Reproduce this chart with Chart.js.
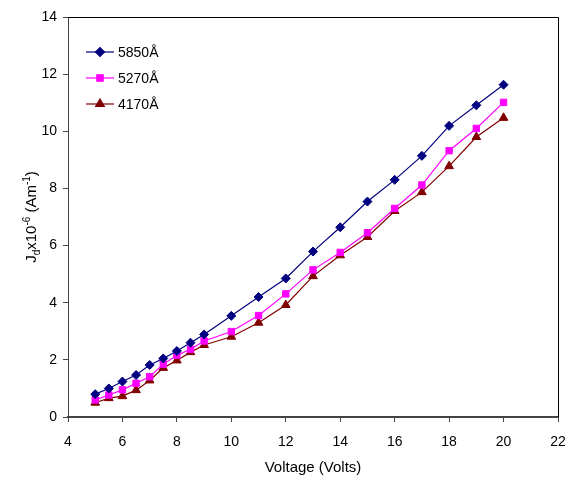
<!DOCTYPE html>
<html>
<head>
<meta charset="utf-8">
<script src="https://cdn.jsdelivr.net/npm/chart.js@4"></script>
<style>
  html, body { margin: 0; padding: 0; background: #fff; }
  #wrap { width: 567px; height: 481px; }
</style>
</head>
<body>
<div id="wrap"><canvas id="jdChart" width="567" height="481"></canvas></div>
<script>
// Data
const voltage = [5, 5.5, 6, 6.5, 7, 7.5, 8, 8.5, 9, 10, 11, 12, 13, 14, 15, 16, 17, 18, 19, 20];
const jd5850 = [0.80, 1.00, 1.24, 1.47, 1.82, 2.05, 2.31, 2.60, 2.89, 3.54, 4.20, 4.85, 5.79, 6.64, 7.54, 8.30, 9.14, 10.19, 10.91, 11.63];
const jd5270 = [0.60, 0.77, 0.95, 1.18, 1.41, 1.85, 2.16, 2.37, 2.66, 2.99, 3.55, 4.31, 5.15, 5.76, 6.45, 7.30, 8.12, 9.32, 10.10, 11.01];
const jd4170 = [0.50, 0.66, 0.73, 0.94, 1.28, 1.72, 1.98, 2.27, 2.52, 2.81, 3.30, 3.92, 4.93, 5.66, 6.30, 7.21, 7.87, 8.78, 9.80, 10.47];
const seriesLabels = ['5850Å', '5270Å', '4170Å'];
const xTicks = [4, 6, 8, 10, 12, 14, 16, 18, 20, 22];
const yTicks = [0, 2, 4, 6, 8, 10, 12, 14];

const FONT = 'Liberation Sans, Arial, sans-serif';

function toPoints(ys) {
    return voltage.map((v, i) => ({ x: v, y: ys[i] }));
}

// Frame (top/right border), y-title with sub/superscripts, and in-plot legend
const extras = {
    id: 'extras',
    afterDraw(chart) {
        const ctx = chart.ctx;
        const a = chart.chartArea;
        ctx.save();
        ctx.strokeStyle = '#000';
        ctx.lineWidth = 1;
        ctx.beginPath();
        ctx.moveTo(a.left, a.top + 0.5);
        ctx.lineTo(a.right + 0.5, a.top + 0.5);
        ctx.lineTo(a.right + 0.5, a.bottom);
        ctx.stroke();

        // y axis title
        const parts = [
            { t: 'J', size: 15, dy: 0 },
            { t: 'd', size: 10, dy: 4 },
            { t: 'x10', size: 15, dy: 0 },
            { t: '-6', size: 10, dy: -6 },
            { t: ' (Am', size: 15, dy: 0 },
            { t: '-1', size: 10, dy: -6 },
            { t: ')', size: 15, dy: 0 }
        ];
        let total = 0;
        parts.forEach(p => { ctx.font = p.size + 'px ' + FONT; p.w = ctx.measureText(p.t).width; total += p.w; });
        ctx.translate(31, (a.top + a.bottom) / 2);
        ctx.rotate(-Math.PI / 2);
        ctx.fillStyle = '#000';
        ctx.textBaseline = 'alphabetic';
        let x = -total / 2;
        parts.forEach(p => {
            ctx.font = p.size + 'px ' + FONT;
            ctx.fillText(p.t, x, 5 + p.dy);
            x += p.w;
        });
        ctx.restore();

        // legend
        ctx.save();
        chart.data.datasets.forEach((ds, i) => {
            const y = 52 + i * 26;
            const x0 = 86, x1 = 114;
            ctx.strokeStyle = ds.borderColor;
            ctx.lineWidth = 1.2;
            ctx.beginPath();
            ctx.moveTo(x0, y);
            ctx.lineTo(x1, y);
            ctx.stroke();
            ctx.fillStyle = ds.backgroundColor;
            Chart.helpers.drawPoint(ctx, {
                pointStyle: ds.pointStyle,
                radius: ds.pointRadius,
                borderWidth: 1
            }, (x0 + x1) / 2, y);
            ctx.fillStyle = '#000';
            ctx.font = '14px ' + FONT;
            ctx.textBaseline = 'middle';
            ctx.fillText(ds.label, 118, y + 1);
        });
        ctx.restore();
    }
};

const colors = ['#000080', '#FF00FF', '#800000'];
const styles = ['rectRot', 'rect', 'triangle'];
const radii = [4.5, 4.5, 5];
const allData = [jd5850, jd5270, jd4170];

new Chart(document.getElementById('jdChart').getContext('2d'), {
    type: 'line',
    data: {
        datasets: allData.map((d, i) => ({
            label: seriesLabels[i],
            data: toPoints(d),
            borderColor: colors[i],
            backgroundColor: colors[i],
            borderWidth: 1.2,
            pointStyle: styles[i],
            pointRadius: radii[i],
            pointBorderWidth: 1,
            tension: 0
        }))
    },
    options: {
        responsive: false,
        animation: false,
        layout: { padding: { top: 17, right: 9, left: 0, bottom: 0 } },
        plugins: { legend: { display: false }, tooltip: { enabled: false } },
        scales: {
            x: {
                type: 'linear',
                min: 4, max: 22,
                afterBuildTicks(scale) { scale.ticks = xTicks.map(v => ({ value: v })); },
                afterFit(scale) { scale.height = 64; scale.paddingLeft = 0; scale.paddingRight = 0; },
                grid: { display: true, drawOnChartArea: false, drawTicks: true, tickLength: 5, color: '#444', lineWidth: 1 },
                border: { display: true, color: '#444', width: 2 },
                ticks: { color: '#000', font: { family: FONT, size: 14 }, padding: 12, maxRotation: 0 },
                title: { display: true, text: 'Voltage (Volts)', color: '#000', font: { family: FONT, size: 15 }, padding: { top: 0 } }
            },
            y: {
                type: 'linear',
                min: 0, max: 14,
                afterBuildTicks(scale) { scale.ticks = yTicks.map(v => ({ value: v })); },
                afterFit(scale) { scale.width = 68; scale.paddingTop = 0; scale.paddingBottom = 0; },
                grid: { display: true, drawOnChartArea: false, drawTicks: true, tickLength: 5, color: '#444', lineWidth: 1 },
                border: { display: true, color: '#444', width: 1 },
                ticks: { color: '#000', font: { family: FONT, size: 14 }, padding: 6 }
            }
        }
    },
    plugins: [extras]
});
</script>
</body>
</html>
